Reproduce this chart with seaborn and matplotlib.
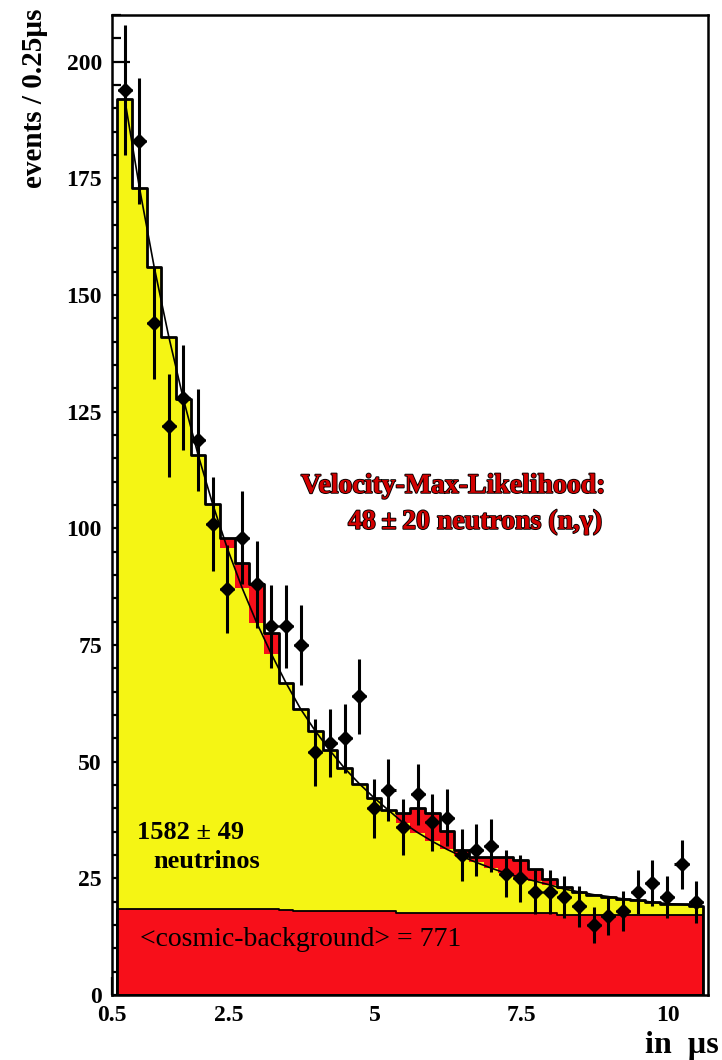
import numpy as np
import pandas as pd
import matplotlib
matplotlib.use("Agg")
import matplotlib.pyplot as plt
import matplotlib.patheffects as pe
from matplotlib.ticker import MultipleLocator, FixedLocator, FixedFormatter
import seaborn as sns

# Histogram binning (microseconds)
bin_width = 0.25
t_start = 0.6
n_bins = 40

# Observed events per 0.25 us bin
observed = [194, 183, 144, 122, 128, 119, 101, 87, 98, 88,
            79, 79, 75, 52, 54, 55, 64, 40, 44, 36,
            43, 37, 38, 30, 31, 32, 26, 25, 22, 22,
            21, 19, 15, 17, 18, 22, 24, 21, 28, 20]

# Cosmic background per bin
background = [18.4, 18.4, 18.4, 18.4, 18.4, 18.4, 18.4, 18.4, 18.4, 18.4,
              18.4, 18.2, 17.9, 17.9, 17.9, 17.9, 17.9, 17.9, 17.9, 17.5,
              17.5, 17.5, 17.5, 17.5, 17.5, 17.5, 17.5, 17.5, 17.5, 17.5,
              17.2, 17.2, 17.2, 17.2, 17.2, 17.2, 17.2, 17.2, 17.2, 17.2]

# Neutrino (muon-decay) component per bin
neutrino = [173.5, 154.6, 137.7, 122.7, 109.3, 97.4, 86.8, 77.3, 68.9, 61.4,
            54.7, 48.7, 43.4, 38.7, 34.5, 30.7, 27.4, 24.4, 21.7, 19.4,
            17.3, 15.4, 13.7, 12.2, 10.9, 9.7, 8.6, 7.7, 6.9, 6.1,
            5.5, 4.9, 4.3, 3.9, 3.4, 3.1, 2.7, 2.4, 2.2, 1.9]

# Neutron (n,gamma) component per bin
neutron = [0, 0, 0, 0, 0, 0, 0, 2.2, 5.2, 8.2,
           4.4, 0, 0, 0, 0, 0, 0, 0, 0, 2.2,
           5.2, 6.0, 4.0, 1.3, 1.1, 2.3, 3.5, 3.8, 2.7, 1.2,
           0.5, 0, 0, 0, 0, 0, 0, 0, 0, 0]

x_ticks = [0.5, 2.5, 5, 7.5, 10]
x_tick_labels = ["0.5", "2.5", "5", "7.5", "10"]

YELLOW = "#f5f514"
RED = "#f70f1a"

edges = t_start + bin_width * np.arange(n_bins + 1)
centers = edges[:-1] + bin_width / 2

bg = np.array(background)
signal = bg + np.array(neutrino)
total = signal + np.array(neutron)
obs = np.array(observed, dtype=float)

hist_df = pd.DataFrame({"t": centers, "bg": bg, "signal": signal, "total": total})

sns.set_theme(style="ticks")
plt.rcParams["font.family"] = ["Liberation Serif", "DejaVu Serif"]
plt.rcParams["font.weight"] = "bold"

fig = plt.figure(figsize=(7.22, 10.6), dpi=100)
ax = fig.add_axes([111.6 / 722, 65 / 1060, (708 - 111.6) / 722, (995 - 15) / 1060])


def step_hist(column, zorder, **kws):
    sns.histplot(data=hist_df, x="t", weights=column, bins=n_bins,
                 binrange=(edges[0], edges[-1]), element="step",
                 fill=True, alpha=1, ax=ax, zorder=zorder, **kws)


# Stacked components: neutrons (red) on top of neutrinos (yellow) on background (red)
step_hist("total", 1, color=RED, edgecolor="none", linewidth=0)
step_hist("signal", 2, color=YELLOW, edgecolor="none", linewidth=0)
step_hist("bg", 3, color=RED, edgecolor="black", linewidth=1.3)

# Fit curve (background + neutrinos)
sns.lineplot(data=hist_df, x="t", y="signal", color="black", linewidth=1.2,
             ax=ax, zorder=4)

# Outline of the total expectation
step_hist("total", 5, color="black", facecolor="none", edgecolor="black", linewidth=2.0)

# Data points with Poisson errors
ax.errorbar(centers, obs, yerr=np.sqrt(obs), xerr=0.12, fmt="D", color="black",
            ms=7.5, elinewidth=2.2, capsize=0, zorder=6)

ax.set_xlim(0.5, 10.677)
ax.set_ylim(0, 210)
ax.set_xlabel("")
ax.set_ylabel("")

ax.xaxis.set_major_locator(FixedLocator(x_ticks))
ax.xaxis.set_major_formatter(FixedFormatter(x_tick_labels))
ax.xaxis.set_minor_locator(MultipleLocator(0.5))
ax.yaxis.set_major_locator(MultipleLocator(25))
ax.yaxis.set_minor_locator(MultipleLocator(5))
ax.tick_params(which="major", direction="in", length=13, width=1.6,
               labelsize=17, color="black", labelcolor="black")
ax.tick_params(which="minor", direction="in", length=6.5, width=1.6, color="black")
ax.tick_params(axis="x", which="major", pad=7)
ax.tick_params(axis="y", which="major", pad=7)
ax.tick_params(top=False, right=False, which="both")
for lab in ax.get_xticklabels() + ax.get_yticklabels():
    lab.set_fontweight("bold")
for sp in ax.spines.values():
    sp.set_visible(True)
    sp.set_color("black")
    sp.set_linewidth(1.8)

fig.text(35 / 722, 1 - 8 / 1060, "events / 0.25\u00b5s", rotation=90,
         ha="center", va="top", fontsize=21, fontweight="bold", color="black")
fig.text(719 / 722, 1 - 1046 / 1060, "in  \u00b5s", ha="right", va="center",
         fontsize=23, fontweight="bold", color="black")

red_text = dict(color="#d20000", fontsize=20, fontweight="bold", ha="right", va="center",
                path_effects=[pe.Stroke(linewidth=1.3, foreground="black"), pe.Normal()],
                zorder=7)
ax.text(8.92, 109, "Velocity-Max-Likelihood:", **red_text)
ax.text(8.86, 101.3, "48\u2009\u00b1\u200920 neutrons (n,\u03b3)", **red_text)

ax.text(0.93, 34.9, "1582 \u00b1 49", fontsize=19, fontweight="bold", color="black",
        ha="left", va="center", zorder=7)
ax.text(1.21, 28.5, "neutrinos", fontsize=19, fontweight="bold", color="black",
        ha="left", va="center", zorder=7)
ax.text(0.985, 11.8, "<cosmic-background> = 771", fontsize=20, fontweight="normal",
        color="black", ha="left", va="center", zorder=7)

fig.savefig("out.png", dpi=100, facecolor="white")
